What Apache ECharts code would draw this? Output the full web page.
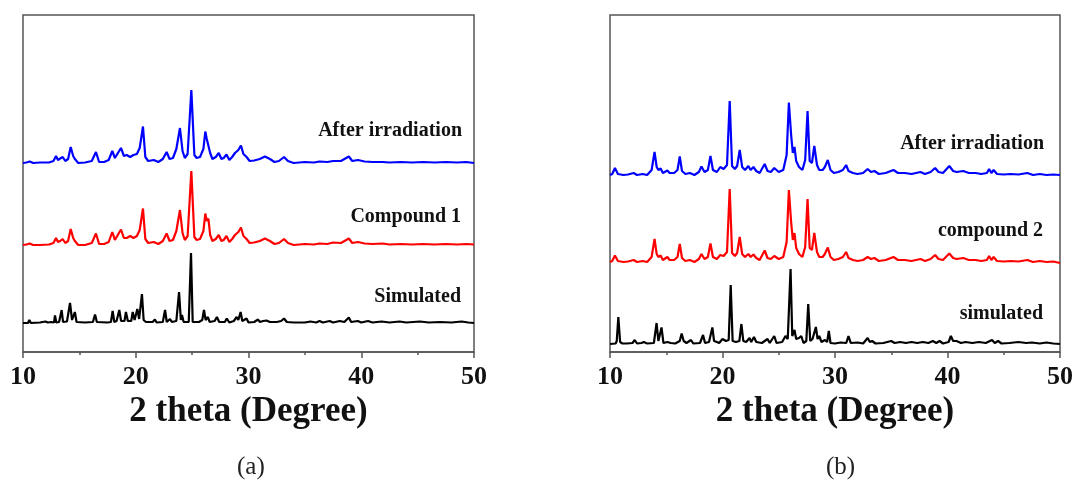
<!DOCTYPE html>
<html>
<head>
<meta charset="utf-8">
<title>PXRD</title>
<script src="https://cdn.jsdelivr.net/npm/echarts@6/dist/echarts.min.js"></script>
<style>
  html, body { margin: 0; padding: 0; background: #fff; }
  #xrd { width: 1076px; height: 487px; }
</style>
</head>
<body>
<div id="xrd"></div>
<script>
// 2 theta ticks
var xTicks = [10, 20, 30, 40, 50];

// series names as printed next to each pattern
var namesA = ['Simulated', 'Compound 1', 'After irradiation'];
var namesB = ['simulated', 'compound 2', 'After irradiation'];

// panel (a) patterns, [2theta, intensity above own baseline]
var simA = [[10,0],[10.45,0],[10.56,3],[10.7,0],[11.5,0.5],[12.0,1.5],[12.2,0.5],[12.5,1],[12.65,3],[12.75,0.5],[12.84,7.5],[12.95,0.5],[13.2,1],[13.43,13],[13.55,1],[13.9,1.5],[14.17,20],[14.35,3],[14.6,11],[14.75,1],[15.5,0.5],[16.2,1],[16.39,8.5],[16.55,1],[17.5,0.5],[17.8,1],[17.95,12],[18.1,1],[18.3,2],[18.54,13],[18.7,2],[19.0,2],[19.13,11],[19.3,2],[19.6,2],[19.73,11],[19.9,3],[20.14,14],[20.3,4],[20.55,29],[20.7,3],[20.9,1],[21.5,1],[21.7,3.5],[21.85,0.5],[22.4,1],[22.6,13],[22.75,1],[22.9,1.5],[23.04,4],[23.2,1],[23.6,2],[23.84,31],[24.0,3],[24.1,8],[24.25,1],[24.7,1],[24.9,70],[25.05,1],[25.6,1],[25.9,3],[26.05,13],[26.2,3],[26.4,6],[26.55,1],[27.0,2],[27.2,6],[27.4,1],[27.9,1],[28.07,4.5],[28.3,0.5],[28.7,2],[28.95,6],[29.1,3],[29.3,11],[29.45,2],[29.6,2],[29.83,4.5],[30.0,0.5],[30.5,1],[30.85,3.5],[31.0,1],[31.3,2],[31.6,2.5],[31.9,1],[32.5,1],[32.9,2],[33.15,4.5],[33.4,1],[34.0,0.5],[35.0,0.5],[35.5,1.5],[36.0,0.5],[36.3,2],[36.6,0.5],[37.2,2],[37.5,0.5],[38.1,2],[38.5,1],[38.9,5.5],[39.1,1],[39.7,2],[40.0,0.5],[40.6,2],[41.0,0.5],[41.8,1.5],[42.5,0.5],[43.4,1.5],[44.0,0.5],[45.2,1.5],[46,0.5],[47,1],[48,0.5],[48.9,1.5],[49.5,0.5],[50,0]];
var expA = [[10,0],[10.3,0.5],[10.6,1.5],[10.9,0],[11.5,0],[12.3,0.5],[12.7,2],[12.93,7],[13.1,3],[13.3,4],[13.52,6],[13.75,2],[14.0,4],[14.23,16],[14.45,7],[14.6,4],[14.9,0],[15.5,0],[16.1,2],[16.47,11.5],[16.75,1],[17.2,1],[17.6,3],[17.92,13],[18.15,5],[18.3,4],[18.69,15.5],[18.95,7],[19.2,7],[19.5,9],[19.8,7],[20.1,9],[20.35,15],[20.64,36.5],[20.85,6],[21.1,2],[21.6,3],[22.0,1],[22.4,4],[22.74,11.5],[23.0,4],[23.3,5],[23.6,14],[23.92,35],[24.15,12],[24.35,5],[24.6,9],[24.93,74],[25.2,8],[25.4,5],[25.7,6],[26.0,14],[26.17,31.5],[26.3,24],[26.44,26.5],[26.6,10],[26.8,4],[27.1,6],[27.36,10],[27.6,4],[27.8,5],[28.05,9],[28.3,3],[28.55,6],[28.8,10],[29.1,13],[29.33,17.5],[29.55,9],[29.83,6],[30.1,2],[30.5,2.5],[31.0,4],[31.46,6.5],[31.9,4],[32.3,1],[32.7,2],[33.15,6],[33.5,2],[34.0,0],[35.0,1],[35.8,0.5],[36.3,1.5],[37.0,1],[37.5,2.5],[38.2,2],[38.9,6.5],[39.2,2],[39.7,3],[40.3,1.5],[41.0,1],[41.9,1.5],[42.5,0.5],[43.5,1],[44.5,0.5],[45.5,1],[46.5,0.5],[47.5,1],[48.5,0.5],[49.3,1],[50,0.5]];
var irrA = [[10,0],[10.3,0.5],[10.6,1.5],[10.9,0],[11.5,0.5],[12.3,0.5],[12.7,2],[12.93,7],[13.1,3],[13.3,4.5],[13.52,6],[13.75,2],[14.0,4],[14.23,16],[14.45,7],[14.6,4],[14.9,0],[15.5,0.5],[16.1,2],[16.47,11],[16.75,1],[17.2,1],[17.6,3],[17.92,12],[18.15,5],[18.3,4],[18.69,15],[18.95,7],[19.2,8],[19.5,6],[19.8,8],[20.1,9],[20.35,15],[20.64,36.5],[20.85,6],[21.1,2],[21.6,3],[22.0,1],[22.4,4],[22.74,11],[23.0,4],[23.3,5],[23.6,14],[23.92,35],[24.15,12],[24.35,5],[24.6,9],[24.93,73],[25.2,8],[25.4,5],[25.7,6],[26.0,14],[26.17,31.5],[26.3,24],[26.44,26],[26.6,10],[26.8,4],[27.1,6],[27.36,10],[27.6,4],[27.8,5],[28.05,8.5],[28.3,3],[28.55,6],[28.8,10],[29.1,13],[29.33,17.5],[29.55,9],[29.83,6],[30.1,2],[30.5,2.5],[31.0,4],[31.46,6.5],[31.9,4],[32.3,1],[32.7,2],[33.15,6],[33.5,2],[34.0,0],[35.0,1],[35.8,0.5],[36.3,1.5],[37.0,1],[37.5,2],[38.2,2],[38.9,6.5],[39.2,2],[39.7,3],[40.3,1.5],[41.0,1],[41.9,1],[42.5,0.5],[43.5,1],[44.5,0.5],[45.5,1],[46.5,0.5],[47.5,1],[48.5,0.5],[49.3,1],[50,0]];

// panel (b) patterns
var simB = [[10,0],[10.5,0.5],[10.6,3],[10.74,27],[10.9,2],[11.1,0.5],[11.5,0.5],[12.0,1],[12.2,4],[12.4,0.5],[12.8,1],[13.0,2],[13.3,0.5],[13.9,1],[14.14,21],[14.3,3],[14.45,3],[14.58,16.5],[14.75,1],[15.1,2],[15.4,1],[15.8,0.5],[16.2,3],[16.37,10.5],[16.55,3],[16.8,1],[17.2,4],[17.4,0.5],[18.0,1],[18.27,9],[18.45,1],[18.8,2],[19.1,16.5],[19.25,3],[19.5,2],[19.7,1],[20.0,5],[20.3,3],[20.55,4],[20.73,59],[20.9,3],[21.2,2],[21.5,3],[21.68,20],[21.85,3],[22.1,2],[22.4,6],[22.55,2],[22.8,7],[23.0,2],[23.5,1],[24.0,5],[24.2,1],[24.6,8],[24.8,1],[25.3,2],[25.6,8],[25.8,5],[26.05,75],[26.2,8],[26.4,14],[26.55,5],[26.8,6],[27.0,8],[27.2,1],[27.45,3],[27.62,40],[27.8,3],[28.0,5],[28.3,17],[28.45,5],[28.6,8],[28.8,2],[29.1,4],[29.3,2],[29.45,13],[29.6,1],[30.0,0.5],[30.5,1.5],[31.0,1],[31.2,8],[31.4,1],[32.0,1.5],[32.5,0.5],[32.9,6],[33.1,2],[33.3,3],[33.6,0.5],[34.3,1],[35.0,3],[35.3,1],[35.8,2],[36.3,1],[36.8,2],[37.3,1],[37.8,2],[38.3,1],[38.7,3],[39.0,1],[39.3,3],[39.6,0.5],[40.1,2],[40.3,8],[40.5,3],[40.8,3],[41.2,1],[41.6,2],[42.2,1],[42.8,2],[43.4,1],[43.96,4],[44.2,1],[44.5,3],[44.8,0.5],[45.5,1],[46.3,2],[47.0,1],[47.5,1.5],[48.2,0.5],[48.8,1.5],[49.4,0.5],[50,0]];
var expB = [[10,0],[10.2,1],[10.44,6.5],[10.7,1],[11.2,0],[11.6,0.5],[12.1,2],[12.4,0],[12.9,1],[13.3,0],[13.7,5],[13.96,23],[14.15,8],[14.3,5],[14.5,6.5],[14.7,2],[15.1,5],[15.3,2],[15.7,2],[16.0,5],[16.2,18],[16.4,4],[16.7,1],[17.1,2],[17.5,0],[17.9,3],[18.13,8],[18.4,3],[18.7,5],[18.93,18.5],[19.15,5],[19.5,3],[19.8,7],[20.1,6],[20.4,10],[20.64,73],[20.85,9],[21.1,6],[21.3,9],[21.53,25],[21.75,8],[22.0,5],[22.3,8],[22.5,5],[22.75,7.5],[23.0,4],[23.3,2],[23.75,11.5],[24.0,4],[24.3,3],[24.6,6],[25.0,3],[25.4,5],[25.7,20],[25.9,72],[26.1,40],[26.25,22],[26.4,29],[26.55,14],[26.8,8],[27.1,5],[27.35,15],[27.56,63],[27.75,14],[27.95,12],[28.16,29],[28.4,10],[28.6,5],[28.9,5],[29.1,8],[29.36,14.5],[29.6,5],[29.9,2],[30.3,3],[30.7,5],[30.99,10],[31.2,4],[31.6,2],[32.0,1],[32.5,2],[32.9,5],[33.2,3],[33.5,4],[33.9,1],[34.5,2],[35.2,5],[35.6,2],[36.2,2],[36.8,1],[37.6,3],[38.0,1],[38.5,3],[38.9,7],[39.2,3],[39.6,2],[40.16,8.5],[40.5,4],[40.8,3],[41.4,4],[41.9,2],[42.5,2],[43.0,1],[43.5,2],[43.7,6],[43.9,2],[44.1,5],[44.4,1],[45.0,0.5],[45.6,1],[46.3,0.5],[47.1,2],[47.6,0],[48.2,1],[48.8,0],[49.4,0.5],[50,-1]];
var irrB = [[10,0],[10.2,1],[10.44,7],[10.7,1],[11.2,0],[11.6,0.5],[12.1,2],[12.4,0],[12.9,1],[13.3,0],[13.7,5],[13.96,23],[14.15,8],[14.3,5],[14.5,6.5],[14.7,2],[15.1,4.5],[15.3,2],[15.7,2],[16.0,5],[16.2,18.5],[16.4,4],[16.7,1],[17.1,2],[17.5,0],[17.9,3],[18.13,8.5],[18.4,3],[18.7,5],[18.93,19],[19.15,5],[19.5,3],[19.8,8],[20.1,6],[20.4,10],[20.64,74],[20.85,9],[21.1,6],[21.3,9],[21.53,25],[21.75,8],[22.0,5],[22.3,9],[22.5,5],[22.75,8],[23.0,4],[23.3,2],[23.75,11],[24.0,4],[24.3,3],[24.6,7],[25.0,3],[25.4,5],[25.7,20],[25.9,72.5],[26.1,40],[26.25,22],[26.4,28],[26.55,14],[26.8,8],[27.1,5],[27.35,15],[27.56,64],[27.75,14],[27.95,12],[28.16,29],[28.4,10],[28.6,5],[28.9,5],[29.1,8],[29.36,15],[29.6,5],[29.9,2],[30.3,3],[30.7,5],[30.99,10],[31.2,4],[31.6,2],[32.0,1],[32.5,2],[32.9,6],[33.2,3],[33.5,4],[33.9,1],[34.5,2],[35.2,5],[35.6,2],[36.2,2],[36.8,1],[37.6,3],[38.0,1],[38.5,3],[38.9,7],[39.2,3],[39.6,2],[40.16,9],[40.5,4],[40.8,3],[41.4,4],[41.9,2],[42.5,2],[43.0,1],[43.5,2],[43.7,6],[43.9,2],[44.1,5],[44.4,1],[45.0,0.5],[45.6,1],[46.3,0.5],[47.1,2],[47.6,0],[48.2,1],[48.8,0],[49.4,0.5],[50,0]];

var colors = ['#000000', '#ff0000', '#0000ff'];
var offsetsA = [29, 107, 189];
var offsetsB = [8, 90, 177];

var serif = '"Liberation Serif", "Times New Roman", serif';

function shift(data, off) {
  return data.map(function (p) { return [p[0], p[1] + off]; });
}

function xAxisFor(idx) {
  return {
    gridIndex: idx,
    type: 'value',
    min: xTicks[0],
    max: xTicks[xTicks.length - 1],
    interval: 10,
    name: '2 theta (Degree)',
    nameLocation: 'middle',
    nameGap: 39,
    nameTextStyle: { fontFamily: serif, fontWeight: 'bold', fontSize: 35, color: '#111' },
    axisLine: { lineStyle: { color: '#555', width: 1.5 } },
    axisTick: { length: 6, lineStyle: { color: '#555', width: 1.5 } },
    minorTick: { show: true, splitNumber: 2, length: 3, lineStyle: { color: '#555', width: 1.5 } },
    splitLine: { show: false },
    axisLabel: { fontFamily: serif, fontWeight: 'bold', fontSize: 26, color: '#111', margin: 12 }
  };
}

function yAxisFor(idx) {
  return { gridIndex: idx, type: 'value', min: 0, max: 337, show: false };
}

function lineSeries(data, off, color, idx) {
  return {
    type: 'line',
    xAxisIndex: idx,
    yAxisIndex: idx,
    data: shift(data, off),
    symbol: 'none',
    lineStyle: { color: color, width: 2.2 },
    z: 3
  };
}

function label(text, right, y) {
  return {
    type: 'text',
    right: right,
    top: y - 11,
    style: { text: text, font: 'bold 20px ' + serif, fill: '#111' }
  };
}

var chart = echarts.init(document.getElementById('xrd'));

var option = {
  animation: false,
  backgroundColor: '#fff',
  grid: [
    { left: 23, top: 15, width: 451, height: 337, show: true, borderColor: '#555', borderWidth: 1.5 },
    { left: 610, top: 15, width: 451, height: 337, show: true, borderColor: '#555', borderWidth: 1.5 }
  ],
  xAxis: [xAxisFor(0), xAxisFor(1)],
  yAxis: [yAxisFor(0), yAxisFor(1)],
  series: [
    lineSeries(simA, offsetsA[0], colors[0], 0),
    lineSeries(expA, offsetsA[1], colors[1], 0),
    lineSeries(irrA, offsetsA[2], colors[2], 0),
    lineSeries(simB, offsetsB[0], colors[0], 1),
    lineSeries(expB, offsetsB[1], colors[1], 1),
    lineSeries(irrB, offsetsB[2], colors[2], 1)
  ],
  graphic: [
    label(namesA[2], 1076 - 462, 132),
    label(namesA[1], 1076 - 461, 218),
    label(namesA[0], 1076 - 461, 298),
    label(namesB[2], 1076 - 1044, 145),
    label(namesB[1], 1076 - 1043, 232),
    label(namesB[0], 1076 - 1043, 315),
    {
      type: 'text', left: 237, top: 455,
      style: { text: '(a)', font: '25px ' + serif, fill: '#222' }
    },
    {
      type: 'text', left: 826, top: 455,
      style: { text: '(b)', font: '25px ' + serif, fill: '#222' }
    }
  ]
};

chart.setOption(option);
</script>
</body>
</html>
